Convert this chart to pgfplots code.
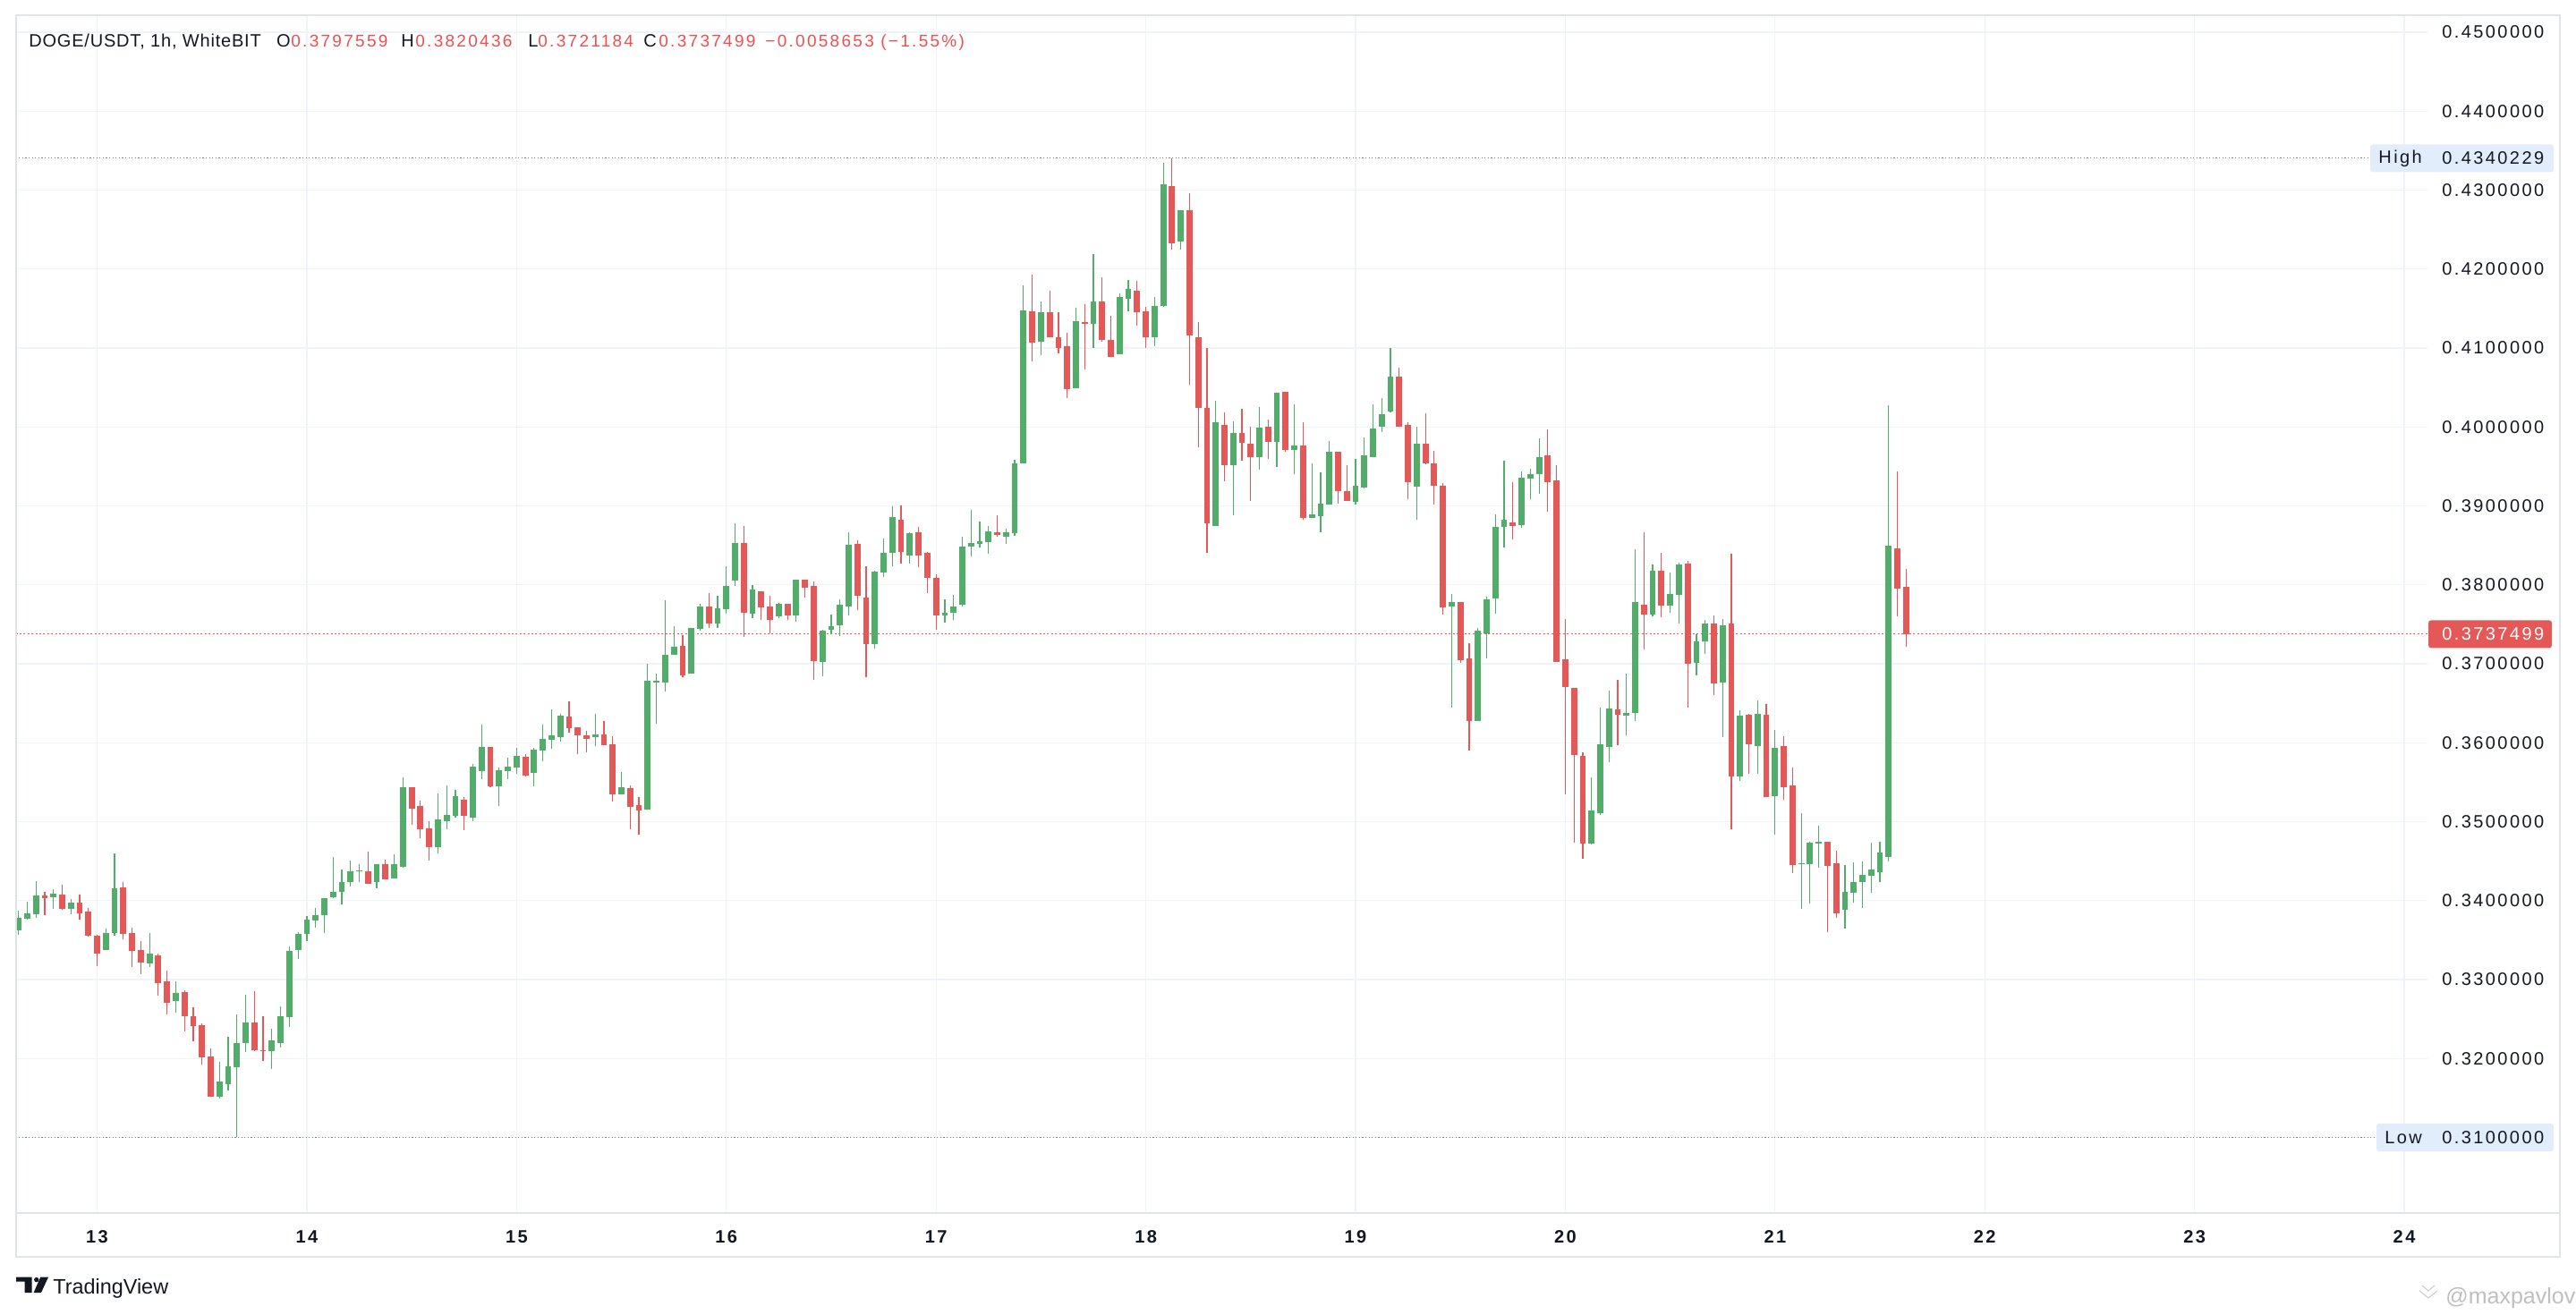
\documentclass[border=0pt]{standalone}
\usepackage{fontspec}
\setmainfont{Liberation Sans}
\newfontfamily\tvf{Liberation Sans}[LetterSpace=12]
\newfontfamily\hdrf{Liberation Sans}[LetterSpace=4]
\newfontfamily\numf{Liberation Sans}[LetterSpace=12]
\usepackage{pgfplots}
\usepackage{pgfplotstable}
\pgfplotsset{compat=1.18}
\definecolor{upc}{RGB}{83,173,106}
\definecolor{dnc}{RGB}{229,88,88}
\definecolor{txt}{RGB}{19,23,34}
\definecolor{gridc}{RGB}{240,243,250}
\definecolor{bord}{RGB}{224,227,235}
\definecolor{hibox}{RGB}{226,237,252}
\definecolor{hdrred}{RGB}{236,80,80}
\definecolor{dotg}{RGB}{120,123,134}
\newcommand\axlabfont{\tvf\fontsize{10}{12}\selectfont}
\newcommand\daylabfont{\tvf\bfseries\fontsize{10}{12}\selectfont}

\pgfplotstableread{
h o hi lo c
-9 .3362 .3387 .3357 .3378
-8 .3377 .3399 .3376 .3384
-7 .3383 .3425 .3378 .3406
-5 .3404 .3414 .3390 .3409
-3 .3390 .3402 .3383 .3397
1 .3337 .3364 .3337 .3359
2 .3359 .3460 .3355 .3416
6 .3320 .3359 .3316 .3333
9 .3273 .3298 .3258 .3283
14 .3152 .3196 .3149 .3171
15 .3167 .3228 .3160 .3190
16 .3189 .3256 .3100 .3220
17 .3220 .3281 .3208 .3246
20 .3209 .3238 .3187 .3223
21 .3220 .3266 .3214 .3253
22 .3252 .3342 .3240 .3336
23 .3337 .3360 .3326 .3358
24 .3358 .3380 .3349 .3376
25 .3375 .3391 .3366 .3381
26 .3381 .3403 .3359 .3403
27 .3404 .3455 .3403 .3411
28 .3411 .3439 .3395 .3424
29 .3423 .3451 .3418 .3437
30 .3437 .3446 .3423 .3438
32 .3423 .3446 .3415 .3446
34 .3428 .3459 .3428 .3446
35 .3443 .3556 .3442 .3544
39 .3468 .3536 .3460 .3503
40 .3501 .3546 .3490 .3509
41 .3507 .3540 .3505 .3532
43 .3505 .3573 .3500 .3570
44 .3564 .3623 .3554 .3595
46 .3545 .3569 .3520 .3565
47 .3564 .3581 .3554 .3570
48 .3569 .3594 .3561 .3583
50 .3562 .3594 .3545 .3591
51 .3590 .3623 .3576 .3605
52 .3604 .3642 .3592 .3609
53 .3607 .3636 .3601 .3634
57 .3607 .3636 .3596 .3611
60 .3534 .3563 .3534 .3544
63 .3515 .3700 .3515 .3678
64 .3676 .3688 .3624 .3678
65 .3676 .3780 .3665 .3711
66 .3711 .3748 .3711 .3722
68 .3687 .3745 .3687 .3745
69 .3744 .3776 .3742 .3772
71 .3751 .3786 .3745 .3770
72 .3769 .3824 .3763 .3799
73 .3805 .3878 .3798 .3853
75 .3763 .3800 .3758 .3794
78 .3760 .3777 .3758 .3776
80 .3761 .3807 .3753 .3807
83 .3702 .3743 .3684 .3742
84 .3743 .3762 .3737 .3748
85 .3749 .3782 .3735 .3775
86 .3773 .3867 .3761 .3851
89 .3725 .3818 .3719 .3817
90 .3816 .3859 .3810 .3841
91 .3840 .3899 .3824 .3886
93 .3837 .3867 .3827 .3865
97 .3761 .3782 .3752 .3764
98 .3765 .3787 .3755 .3773
99 .3775 .3861 .3772 .3848
100 .3848 .3895 .3836 .3853
101 .3852 .3880 .3847 .3855
102 .3854 .3875 .3839 .3868
104 .3861 .3871 .3852 .3867
105 .3865 .3958 .3862 .3954
106 .3954 .4179 .3954 .4147
108 .4108 .4159 .4091 .4145
112 .4049 .4151 .4049 .4134
114 .4131 .4219 .4100 .4159
117 .4092 .4169 .4092 .4164
118 .4162 .4186 .4146 .4175
121 .4113 .4164 .4102 .4153
122 .4153 .4334 .4152 .4307
124 .4235 .4274 .4225 .4274
128 .3874 .4033 .3874 .4006
130 .3951 .4007 .3888 .3992
133 .3962 .4025 .3946 .3999
135 .3981 .4043 .3949 .4043
137 .3971 .4029 .3940 .3976
139 .3885 .3954 .3885 .3889
140 .3887 .3942 .3866 .3903
141 .3902 .3982 .3902 .3968
144 .3905 .3960 .3902 .3925
145 .3923 .3987 .3922 .3964
146 .3962 .4029 .3962 .3998
147 .4000 .4037 .3994 .4016
148 .4019 .4100 .4018 .4064
151 .3924 .4000 .3882 .3979
155 .3772 .3788 .3644 .3778
158 .3628 .3745 .3628 .3742
159 .3738 .3785 .3707 .3782
160 .3783 .3889 .3763 .3873
161 .3873 .3957 .3847 .3882
163 .3876 .3944 .3872 .3936
164 .3935 .3947 .3908 .3940
165 .3940 .3985 .3915 .3962
171 .3472 .3556 .3471 .3514
172 .3511 .3645 .3508 .3598
173 .3595 .3666 .3575 .3643
175 .3634 .3688 .3609 .3638
176 .3638 .3845 .3628 .3778
178 .3762 .3826 .3760 .3818
180 .3774 .3816 .3765 .3788
181 .3787 .3828 .3751 .3826
183 .3701 .3737 .3685 .3728
184 .3728 .3755 .3712 .3751
186 .3676 .3757 .3607 .3749
188 .3557 .3641 .3552 .3634
190 .3596 .3653 .3561 .3637
192 .3532 .3616 .3483 .3594
195 .3446 .3511 .3389 .3447
196 .3446 .3474 .3396 .3473
197 .3472 .3495 .3442 .3475
200 .3388 .3445 .3365 .3411
201 .3410 .3448 .3397 .3424
202 .3424 .3450 .3391 .3432
203 .3431 .3473 .3410 .3439
204 .3436 .3475 .3423 .3461
205 .3455 .4028 .3449 .3849
}\uptab

\pgfplotstableread{
h o hi lo c
-6 .3407 .3411 .3381 .3403
-4 .3408 .3420 .3388 .3390
-2 .3397 .3408 .3376 .3384
-1 .3386 .3391 .3354 .3356
0 .3356 .3357 .3317 .3333
3 .3417 .3423 .3351 .3358
4 .3359 .3366 .3316 .3336
5 .3337 .3349 .3307 .3322
7 .3331 .3333 .3280 .3295
8 .3298 .3311 .3256 .3270
10 .3284 .3286 .3234 .3254
11 .3254 .3265 .3222 .3241
12 .3242 .3244 .3192 .3201
13 .3202 .3213 .3151 .3151
18 .3246 .3285 .3209 .3210
19 .3211 .3253 .3197 .3209
31 .3437 .3462 .3421 .3421
33 .3446 .3452 .3427 .3427
36 .3544 .3544 .3496 .3516
37 .3520 .3527 .3479 .3490
38 .3492 .3500 .3451 .3468
42 .3528 .3531 .3489 .3507
45 .3595 .3595 .3544 .3545
49 .3582 .3585 .3557 .3558
54 .3633 .3652 .3613 .3618
55 .3620 .3620 .3585 .3609
56 .3609 .3615 .3588 .3605
58 .3611 .3627 .3597 .3597
59 .3598 .3608 .3525 .3535
61 .3543 .3546 .3490 .3519
62 .3521 .3531 .3484 .3514
67 .3723 .3736 .3683 .3685
70 .3772 .3790 .3745 .3751
74 .3853 .3874 .3734 .3764
76 .3792 .3792 .3756 .3771
77 .3773 .3786 .3739 .3756
79 .3776 .3776 .3756 .3761
81 .3807 .3807 .3784 .3796
82 .3798 .3804 .3680 .3703
87 .3852 .3856 .3768 .3786
88 .3784 .3824 .3683 .3725
92 .3882 .3901 .3827 .3842
94 .3867 .3873 .3822 .3837
95 .3841 .3842 .3790 .3809
96 .3809 .3813 .3743 .3761
103 .3867 .3888 .3861 .3863
107 .4146 .4193 .4083 .4107
109 .4145 .4172 .4113 .4113
110 .4114 .4145 .4093 .4100
111 .4102 .4119 .4037 .4048
113 .4133 .4155 .4073 .4131
115 .4159 .4189 .4108 .4110
116 .4110 .4141 .4089 .4089
119 .4172 .4185 .4128 .4145
120 .4146 .4152 .4100 .4114
123 .4305 .4340229 .4225 .4233
125 .4275 .4296 .4054 .4116
126 .4114 .4133 .3974 .4024
127 .4024 .4100 .3841 .3878
129 .4003 .4018 .3931 .3951
131 .3992 .4023 .3957 .3980
132 .3979 .4000 .3906 .3962
134 .4000 .4009 .3959 .3981
136 .4045 .4045 .3968 .3971
138 .3977 .4006 .3882 .3885
142 .3969 .3969 .3903 .3919
143 .3919 .3952 .3906 .3906
149 .4064 .4075 .4000 .4000
150 .4002 .4006 .3909 .3930
152 .3979 .4017 .3953 .3954
153 .3954 .3970 .3902 .3925
154 .3925 .3929 .3762 .3771
156 .3778 .3778 .3701 .3704
157 .3707 .3726 .3590 .3628
162 .3879 .3930 .3857 .3875
166 .3964 .3997 .3893 .3930
167 .3932 .3952 .3702 .3702
168 .3706 .3757 .3534 .3671
169 .3669 .3669 .3473 .3584
170 .3583 .3588 .3453 .3472
174 .3642 .3680 .3597 .3635
177 .3775 .3866 .3718 .3762
179 .3818 .3840 .3759 .3774
182 .3827 .3830 .3644 .3700
185 .3751 .3761 .3660 .3675
187 .3751 .3839 .3490 .3557
189 .3635 .3636 .3561 .3598
191 .3635 .3649 .3531 .3531
193 .3596 .3608 .3528 .3544
194 .3546 .3568 .3435 .3445
198 .3474 .3474 .3360 .3444
199 .3447 .3463 .3378 .3384
206 .3846 .3944 .3760 .3795
207 .3797559 .3820436 .3721184 .3737499
}\dntab

\begin{document}
\begin{tikzpicture}
\useasboundingbox (0pt,0pt) rectangle (1439.5pt,734.5pt);
\fill[white] (0pt,0pt) rectangle (1439.5pt,734.5pt);
\begin{axis}[
  at={(9pt,56.5pt)}, anchor=south west, scale only axis,
  width=1347.5pt, height=669.5pt,
  xmin=-9.266, xmax=266.66, ymin=0.30042, ymax=0.45215,
  axis line style={draw=none},
  major tick length=0pt,
  xtick={0,24,48,72,96,120,144,168,192,216,240,264},
  xticklabels={13,14,15,16,17,18,19,20,21,22,23,24},
  ytick={0.31,0.32,0.33,0.34,0.35,0.36,0.37,0.38,0.39,0.40,0.41,0.42,0.43,0.44,0.45},
  yticklabels={{},0.3200000,0.3300000,0.3400000,0.3500000,0.3600000,0.3700000,0.3800000,0.3900000,0.4000000,0.4100000,0.4200000,0.4300000,0.4400000,0.4500000},
  yticklabel pos=right,
  xmajorgrids, ymajorgrids,
  major grid style={draw=gridc, line width=0.6pt},
  xticklabel style={anchor=center, yshift=-13.5pt, inner sep=0pt, font=\daylabfont, text=txt},
  yticklabel style={anchor=west, xshift=8pt, inner sep=0pt, font=\axlabfont, text=txt},
]
% reference lines
\addplot[forget plot, dotg, line width=0.5pt, dash pattern=on 0.6pt off 1.2pt] coordinates {(-9.3,0.4340229) (260.2,0.4340229)};
\addplot[forget plot, dotg, line width=0.5pt, dash pattern=on 0.6pt off 1.2pt] coordinates {(-9.3,0.31) (260.8,0.31)};
\addplot[forget plot, dnc, line width=0.55pt, dash pattern=on 1pt off 1.2pt] coordinates {(-9.3,0.3737499) (266.7,0.3737499)};
% wicks
\addplot[forget plot, draw=none, mark=none, error bars/.cd, y dir=plus, y explicit, error mark=none,
  error bar style={draw=upc, line width=0.6pt}]
  table[x=h, y=lo, y error plus expr={\thisrow{hi}-\thisrow{lo}}] {\uptab};
\addplot[forget plot, draw=none, mark=none, error bars/.cd, y dir=plus, y explicit, error mark=none,
  error bar style={draw=dnc, line width=0.6pt}]
  table[x=h, y=lo, y error plus expr={\thisrow{hi}-\thisrow{lo}}] {\dntab};
% bodies
\addplot[forget plot, draw=none, mark=none, error bars/.cd, y dir=plus, y explicit, error mark=none,
  error bar style={draw=upc, line width=3.4pt}]
  table[x=h, y=o, y error plus expr={max(\thisrow{c}-\thisrow{o},0.00012)}] {\uptab};
\addplot[forget plot, draw=none, mark=none, error bars/.cd, y dir=plus, y explicit, error mark=none,
  error bar style={draw=dnc, line width=3.4pt}]
  table[x=h, y=c, y error plus expr={max(\thisrow{o}-\thisrow{c},0.00012)}] {\dntab};
\end{axis}

% frame
\draw[bord, line width=0.9pt] (9pt,32pt) rectangle (1430.5pt,726pt);
\draw[bord, line width=0.8pt] (9pt,56.5pt) -- (1430.5pt,56.5pt);

% header
\begin{scope}[every node/.style={inner sep=0pt, anchor=base west}]
\node[text=txt, font=\hdrf\fontsize{10}{12}\selectfont] at (16pt,708.4pt) {DOGE/USDT, 1h, WhiteBIT};
\node[text=txt, font=\hdrf\fontsize{10}{12}\selectfont] at (154.3pt,708.4pt) {O};
\node[text=hdrred, font=\numf\fontsize{9.5}{11}\selectfont] at (162.5pt,708.4pt) {0.3797559};
\node[text=txt, font=\hdrf\fontsize{10}{12}\selectfont] at (224pt,708.4pt) {H};
\node[text=hdrred, font=\numf\fontsize{9.5}{11}\selectfont] at (232pt,708.4pt) {0.3820436};
\node[text=txt, font=\hdrf\fontsize{10}{12}\selectfont] at (295pt,708.4pt) {L};
\node[text=hdrred, font=\numf\fontsize{9.5}{11}\selectfont] at (300.5pt,708.4pt) {0.3721184};
\node[text=txt, font=\hdrf\fontsize{10}{12}\selectfont] at (359.5pt,708.4pt) {C};
\node[text=hdrred, font=\numf\fontsize{9.5}{11}\selectfont] at (368pt,708.4pt) {0.3737499};
\node[text=hdrred, font=\numf\fontsize{9.5}{11}\selectfont] at (427.5pt,708.4pt) {−0.0058653 (−1.55\%)};
\end{scope}

% high / low / last labels
\fill[hibox, rounded corners=1.5pt] (1324.5pt,638.25pt) rectangle (1427pt,653.75pt);
\node[anchor=west, inner sep=0pt, text=txt, font=\axlabfont] at (1329pt,646pt) {High};
\node[anchor=west, inner sep=0pt, text=txt, font=\axlabfont] at (1364.5pt,646pt) {0.4340229};
\fill[hibox, rounded corners=1.5pt] (1328pt,91pt) rectangle (1427pt,106.5pt);
\node[anchor=west, inner sep=0pt, text=txt, font=\axlabfont] at (1332.5pt,98.77pt) {Low};
\node[anchor=west, inner sep=0pt, text=txt, font=\axlabfont] at (1364.5pt,98.77pt) {0.3100000};
\fill[dnc, rounded corners=1.5pt] (1357pt,372.3pt) rectangle (1426pt,387.8pt);
\node[anchor=west, inner sep=0pt, text=white, font=\axlabfont] at (1364.5pt,380.06pt) {0.3737499};

% TradingView logo
\fill[txt] (9pt,20.65pt) -- (17.85pt,20.65pt) -- (17.85pt,12pt) -- (13.85pt,12pt) -- (13.85pt,18.15pt) -- (9pt,18.15pt) -- cycle;
\fill[txt] (20.4pt,19.2pt) circle (1.35pt);
\fill[txt] (22.6pt,20.65pt) -- (27pt,20.65pt) -- (23pt,12pt) -- (18.8pt,12pt) -- cycle;
\node[anchor=base west, inner sep=0pt, text=txt, font=\fontsize{11.7}{13}\selectfont] at (29.5pt,11.15pt) {TradingView};

% watermark
\draw[gray!45, line width=0.45pt] (1352pt,13pt) -- (1357pt,9pt) -- (1362pt,13pt);
\draw[gray!45, line width=0.45pt] (1353.5pt,16pt) -- (1357pt,13pt) -- (1360.5pt,16pt);
\node[anchor=base west, inner sep=0pt, text=gray!50, font=\fontsize{12.5}{14}\selectfont] at (1366.5pt,6pt) {@maxpavlov};
\end{tikzpicture}
\end{document}
